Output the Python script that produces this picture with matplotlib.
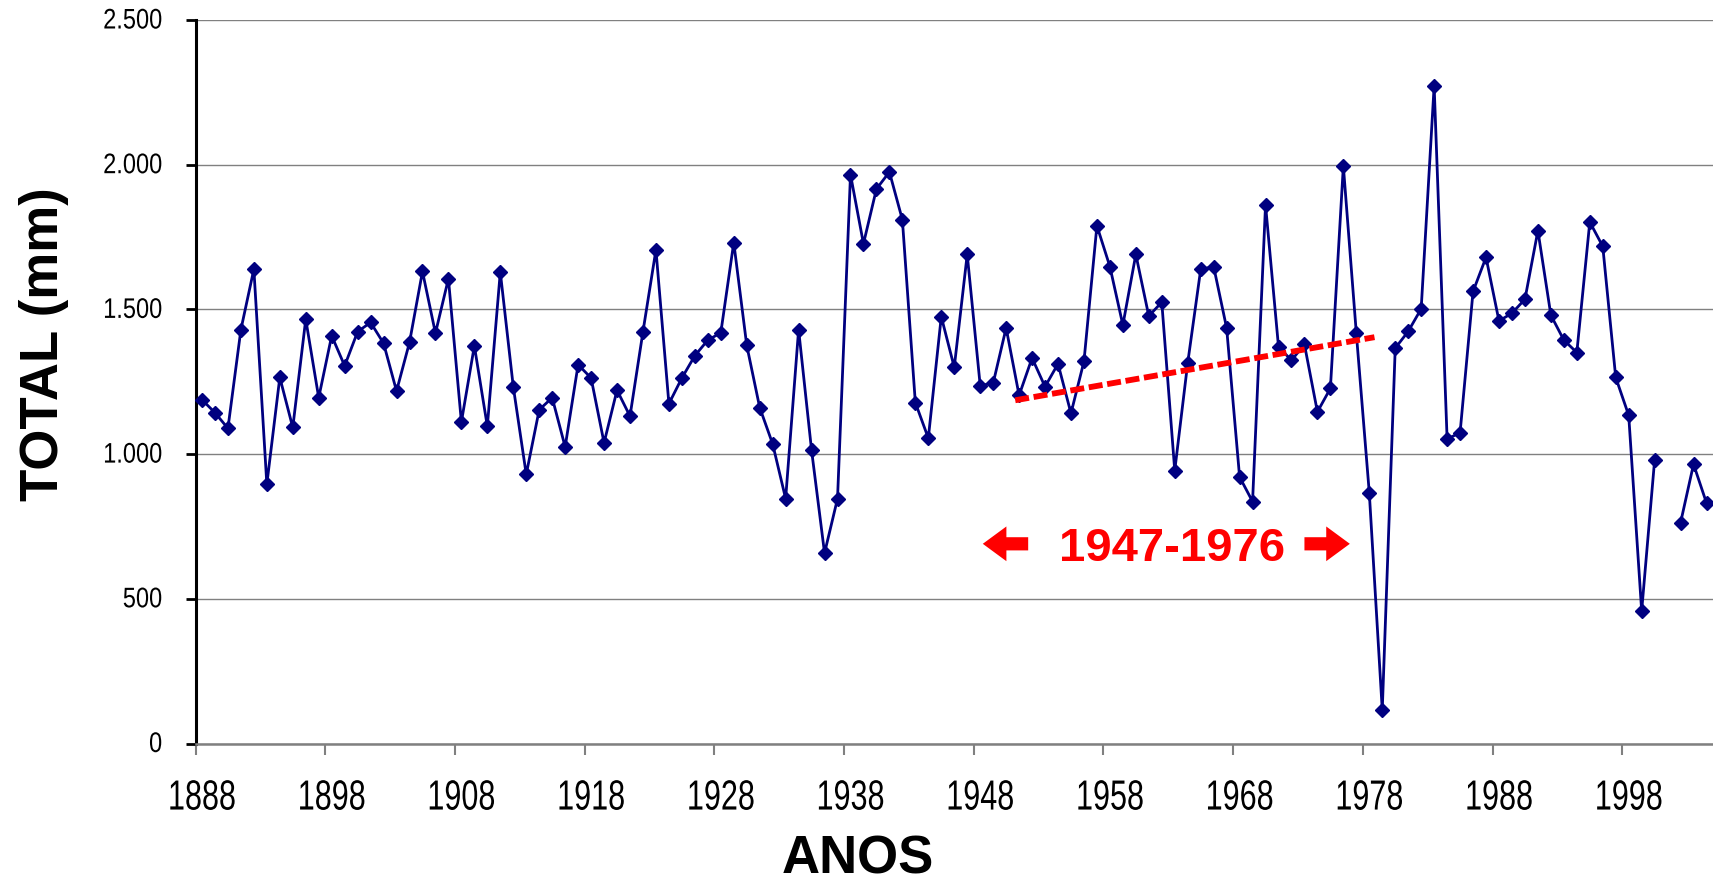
import numpy as np
import matplotlib
matplotlib.use('Agg')
import matplotlib.pyplot as plt
from matplotlib.patheffects import AbstractPathEffect
from matplotlib.transforms import Affine2D

# annual totals (mm), 1888-2004; 2001 missing
years = list(range(1888, 2005))
totals = [1188, 1143, 1089, 1430, 1639, 896, 1265, 1092, 1466, 1195,
          1409, 1305, 1423, 1455, 1383, 1218, 1386, 1631, 1418, 1606,
          1111, 1374, 1096, 1629, 1233, 930, 1153, 1195, 1025, 1309,
          1263, 1039, 1221, 1131, 1423, 1706, 1174, 1263, 1340, 1394,
          1419, 1731, 1376, 1161, 1035, 846, 1430, 1013, 658, 846,
          1966, 1727, 1916, 1975, 1810, 1178, 1055, 1475, 1300, 1690,
          1237, 1245, 1436, 1203, 1332, 1233, 1312, 1141, 1320, 1789,
          1648, 1446, 1690, 1477, 1525, 943, 1315, 1638, 1648, 1436,
          921, 836, 1861, 1371, 1324, 1379, 1146, 1227, 1995, 1418,
          866, 116, 1366, 1424, 1502, 2272, 1052, 1074, 1562, 1680,
          1460, 1487, 1535, 1772, 1480, 1394, 1351, 1802, 1718, 1265,
          1134, 458, 980, np.nan, 763, 965, 831]

# hand-drawn trend segment for the 1947-1976 period
trend_years = [1950.7, 1978.4]
trend_values = [1186, 1404]

period_label = '1947-1976'
period_x = 1962.8
period_y = 630
arrow_left = (1951.7, 1948.2)    # tail, tip
arrow_right = (1973.0, 1976.5)   # tail, tip
arrow_y = 690

ytick_values = [0, 500, 1000, 1500, 2000, 2500]
ytick_labels = ['0', '500', '1.000', '1.500', '2.000', '2.500']
xlabel_years = list(range(1888, 2005, 10))


class TallText(AbstractPathEffect):
    """stretch glyphs vertically about the baseline"""
    def __init__(self, sy):
        super().__init__()
        self.sy = sy

    def draw_path(self, renderer, gc, tpath, affine, rgbFace=None):
        renderer.draw_path(gc, tpath, Affine2D().scale(1, self.sy) + affine, rgbFace)


plt.rcParams['font.family'] = ['Liberation Sans', 'DejaVu Sans']

fig = plt.figure(figsize=(17.13, 8.85), dpi=100)
fig.set_facecolor('white')
ax = fig.add_axes([195.5 / 1713, 1 - 743.5 / 885, 1 - 195.5 / 1713, (743.5 - 20) / 885])

ax.plot(years, totals, color='#000080', lw=2.0, marker='D', ms=7.2,
        mfc='#000080', mec='#000080', zorder=3, clip_on=False)

ax.plot(trend_years, trend_values, color='#ff0000', lw=4.2,
        dashes=(2.4, 0.8), solid_capstyle='butt', zorder=4)

ax.text(period_x, period_y, period_label, color='#ff0000', fontsize=34,
        fontweight='bold', ha='center', va='baseline', zorder=5)
for tail, tip in (arrow_left, arrow_right):
    ax.annotate('', xy=(tip, arrow_y), xytext=(tail, arrow_y),
                arrowprops=dict(arrowstyle='simple,head_length=1.7,head_width=2.5,tail_width=0.95',
                                mutation_scale=10, color='#ff0000', lw=0,
                                shrinkA=0, shrinkB=0), zorder=5)

ax.set_xlim(1887.5, 2004.5)
ax.set_ylim(0, 2500)

# tick marks sit between categories, labels centred on the year
ax.set_xticks(np.arange(1887.5, 2005, 10))
ax.set_xticklabels([])
ax.set_xticks(xlabel_years, minor=True)
ax.set_xticklabels([str(y) for y in xlabel_years], minor=True, fontsize=22)
ax.tick_params(axis='x', which='major', direction='out', length=8, width=1.5, color='#808080')
ax.tick_params(axis='x', which='minor', length=0, pad=31)
for lab in ax.get_xticklabels(minor=True):
    lab.set_path_effects([TallText(1.38)])

ax.set_yticks(ytick_values)
ax.set_yticklabels(ytick_labels, fontsize=17)
ax.tick_params(axis='y', direction='out', length=7, width=2, color='black', pad=17)
for lab in ax.get_yticklabels():
    lab.set_path_effects([TallText(1.2)])

ax.grid(axis='y', color='#808080', lw=1.0)
ax.set_axisbelow(True)
ax.spines['top'].set_visible(False)
ax.spines['right'].set_visible(False)
ax.spines['left'].set_linewidth(2.2)
ax.spines['left'].set_color('black')
ax.spines['bottom'].set_linewidth(1.8)
ax.spines['bottom'].set_color('#808080')

fig.text(858 / 1713, 0.0, 'ANOS', fontsize=38, fontweight='bold',
         ha='center', va='bottom')
fig.text(58 / 1713, 1 - 344 / 885, 'TOTAL (mm)', fontsize=38, fontweight='bold',
         rotation=90, rotation_mode='anchor', ha='center', va='baseline')

fig.savefig('out.png', dpi=100, facecolor='white')
